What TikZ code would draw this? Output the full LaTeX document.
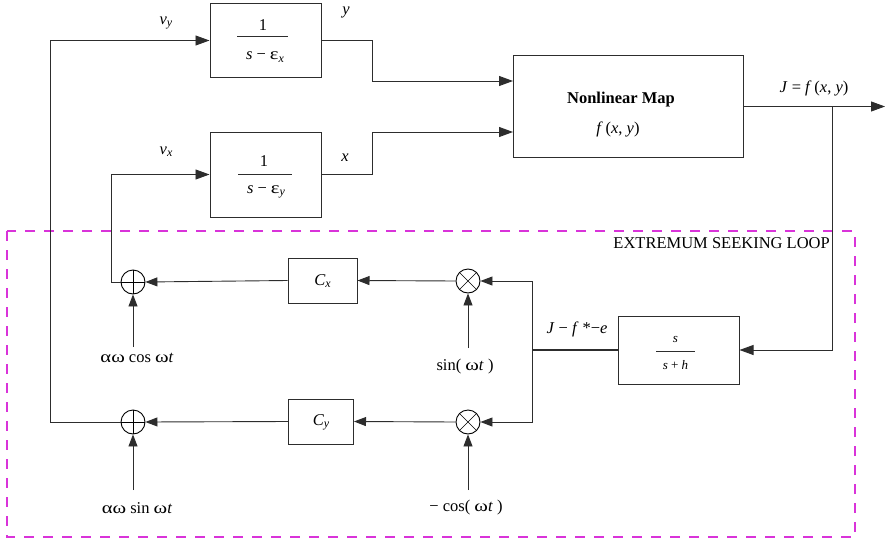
\documentclass[tikz,border=0pt]{standalone}
\usepackage{fontspec}
\setmainfont{Liberation Serif}
\usetikzlibrary{arrows.meta}
\definecolor{loopc}{rgb}{0.85,0.2,0.85}
\definecolor{ln}{RGB}{45,45,45}
\newcommand\ti[1]{\textit{#1}}
\newcommand\sbs[1]{\raisebox{-0.3ex}{\fontsize{12}{12}\selectfont\textit{#1}}}
\newcommand\gk[1]{\scalebox{1.25}[1]{#1}}
\begin{document}
\begin{tikzpicture}[x=1pt,y=-1pt, font=\fontsize{16.5}{18}\selectfont,
  blk/.style={draw=ln, line width=1pt, rectangle, inner sep=0pt},
  wire/.style={draw=ln, line width=0.9pt},
  arr/.style={wire, -{Triangle[length=14pt,width=10pt]}},
  sarr/.style={wire, -{Triangle[length=12pt,width=9pt]}},
  junc/.style={circle, draw=black, line width=0.9pt, minimum size=24pt, inner sep=0pt},
  lbl/.style={inner sep=0pt},
  frline/.style={draw=ln, line width=1pt}]
\useasboundingbox (0,0) rectangle (885,543);

% loop frame
\draw[color=loopc, line width=1.2pt, dash pattern=on 10pt off 9pt] (7,231) rectangle (855,537);
\node[lbl, anchor=east] (looplbl) at (830,243) {EXTREMUM SEEKING LOOP};

% blocks
\node[blk, minimum width=111pt, minimum height=73pt] (g1) at (265.5,40.5) {};
\node[blk, minimum width=111pt, minimum height=85pt] (g2) at (265.5,174.5) {};
\node[blk, minimum width=230pt, minimum height=101pt] (nl) at (628,106.5) {};
\node[blk, minimum width=69pt, minimum height=45pt] (cx) at (322.5,280.5) {};
\node[blk, minimum width=65pt, minimum height=45pt] (cy) at (321,421.5) {};
\node[blk, minimum width=121pt, minimum height=68pt] (hp) at (678.5,350) {};

% block contents
\node[lbl] (g1n) at (263,25) {1};
\draw[frline] (237,37) -- (288,37);
\node[lbl] (g1d) at (265,57) {\ti{s} − \gk{ε}\sbs{x}};
\node[lbl] (g2n) at (264,161) {1};
\node[lbl] (g2d) at (266,192) {\ti{s} − \gk{ε}\sbs{y}};
\draw[frline] (238,174) -- (292,174);
\node[lbl] (nlt) at (621,100) {\textbf{Nonlinear Map}};
\node[lbl] (nlf) at (618,129) {\ti{f}\,(\ti{x}, \ti{y})};
\node[lbl] (cxt) at (322.5,281) {\ti{C}\sbs{x}};
\node[lbl] (cyt) at (321,422) {\ti{C}\sbs{y}};
\node[lbl, font=\fontsize{13}{15}\selectfont] (hpn) at (675.5,339) {\ti{s}};
\draw[frline] (656,351) -- (695,351);
\node[lbl, font=\fontsize{13}{15}\selectfont] (hpd) at (675.5,365) {\ti{s} + \ti{h}};

% junctions
\node[junc] (s1) at (133,282) {};
\draw (s1.north) -- (s1.south) (s1.west) -- (s1.east);
\node[junc] (s2) at (133,422) {};
\draw (s2.north) -- (s2.south) (s2.west) -- (s2.east);
\node[junc] (m1) at (468,281) {};
\draw (m1.north west) -- (m1.south east) (m1.north east) -- (m1.south west);
\node[junc] (m2) at (468,422) {};
\draw (m2.north west) -- (m2.south east) (m2.north east) -- (m2.south west);

% signal labels
\node[lbl] (vy) at (166,23) {\ti{v}\sbs{y}};
\node[lbl] (vx) at (166,152) {\ti{v}\sbs{x}};
\node[lbl] (ylbl) at (346,12) {\ti{y}};
\node[lbl] (xlbl) at (345,158) {\ti{x}};
\node[lbl] (jlbl) at (814,88) {\ti{J} = \ti{f}\,(\ti{x}, \ti{y})};
\node[lbl] (elbl) at (577,329) {\ti{J} − \ti{f} *−\ti{e}};
\node[lbl] (sinl) at (465,367) {sin( \gk{ω}\ti{t} )};
\node[lbl] (cosl) at (137,358) {\gk{α}\gk{ω} cos \gk{ω}\ti{t}};
\node[lbl] (sinb) at (137,508) {\gk{α}\gk{ω} sin \gk{ω}\ti{t}};
\node[lbl] (cosb) at (466,508) {− cos( \gk{ω}\ti{t} )};

% coordinates
\coordinate (nlin1) at (513,81);
\coordinate (nlin2) at (513,132);
\coordinate (out) at (885,106.5);
\coordinate (br) at (832,106.5);
\coordinate (jn) at (532,350);
\coordinate (in1) at (468,348);
\coordinate (in2) at (133,347);
\coordinate (in3) at (133,490);
\coordinate (in4) at (468,490);

% top wires
\draw[arr] (s2.west) -- (50,422) -- (50,40.5) -- (g1.west);
\draw[arr] (s1.west) -- (111,282) -- (111,174.5) -- (g2.west);
\draw[arr] (g1.east) -- (372,40.5) -- (372,81) -- (nlin1);
\draw[arr] (g2.east) -- (372,174.5) -- (372,132) -- (nlin2);
\draw[arr] (nl.east) -- (out);
\draw[arr] (br) -- (832,350) -- (hp.east);

% loop wires
\draw[wire, line width=1.6pt] (hp.west) -- (jn);
\draw[sarr] (jn) |- (m1.east);
\draw[sarr] (jn) |- (m2.east);
\draw[sarr] (m1.west) -- (cx.east);
\draw[sarr] (cx.west) -- (s1.east);
\draw[sarr] (m2.west) -- (cy.east);
\draw[sarr] (cy.west) -- (s2.east);
\draw[sarr] (in1) -- (m1.south);
\draw[sarr] (in2) -- (s1.south);
\draw[sarr] (in3) -- (s2.south);
\draw[sarr] (in4) -- (m2.south);
\end{tikzpicture}
\end{document}
